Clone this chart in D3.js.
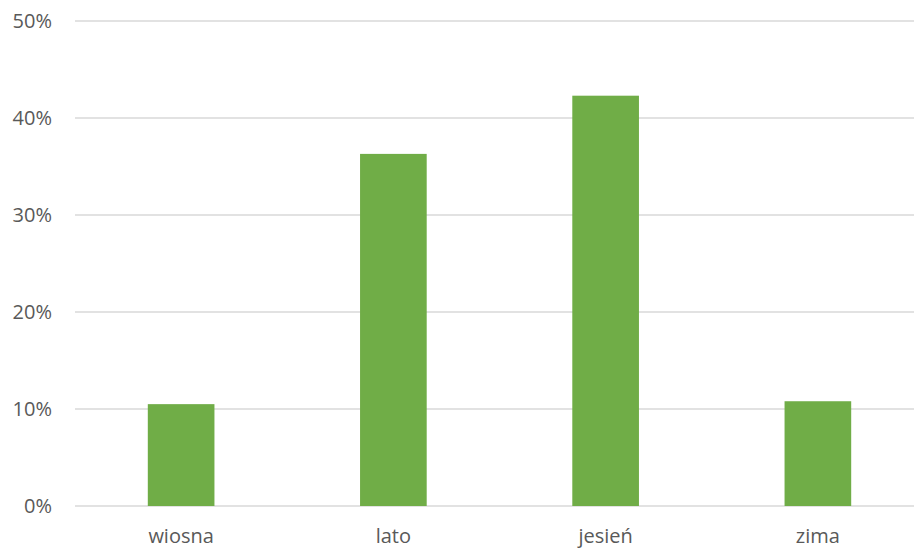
<!DOCTYPE html>
<html>
<head>
<meta charset="utf-8">
<script src="https://cdn.jsdelivr.net/npm/d3@7"></script>
<style>
html,body{margin:0;padding:0;background:#fff;}
svg{display:block;}
</style>
</head>
<body>
<svg id="chart" width="914" height="550"></svg>
<script>
const categories = ["wiosna", "lato", "jesień", "zima"];
const values = [0.105, 0.363, 0.423, 0.108];
const yTicks = [0, 0.1, 0.2, 0.3, 0.4, 0.5];

(function () {
const svg = d3.select("#chart");
const mLeft = 75, mRight = 924, mTop = 21, mBottom = 506;

const x = d3.scaleBand().domain(categories).range([mLeft, mRight])
  .paddingInner(0.686).paddingOuter(0.343);
const y = d3.scaleLinear().domain([0, 0.5]).range([mBottom, mTop]);

const fmt = d3.format(".0%");

// gridlines
svg.append("g").selectAll("line").data(yTicks).join("line")
  .attr("x1", mLeft).attr("x2", 914)
  .attr("y1", d => y(d)).attr("y2", d => y(d))
  .attr("stroke", "#d9d9d9").attr("stroke-width", 1.5);

// y labels
svg.append("g").selectAll("text").data(yTicks).join("text")
  .attr("x", 52).attr("y", d => y(d) + 7)
  .attr("text-anchor", "end")
  .attr("font-family", "'Open Sans', sans-serif")
  .attr("font-size", 20).attr("fill", "#595959")
  .text(d => fmt(d));

// bars
svg.append("g").selectAll("rect").data(categories).join("rect")
  .attr("x", d => x(d)).attr("width", x.bandwidth())
  .attr("y", (d, i) => y(values[i]))
  .attr("height", (d, i) => y(0) - y(values[i]))
  .attr("fill", "#70ad47");

// x labels
svg.append("g").selectAll("text").data(categories).join("text")
  .attr("x", d => x(d) + x.bandwidth() / 2).attr("y", 543)
  .attr("text-anchor", "middle")
  .attr("font-family", "'Open Sans', sans-serif")
  .attr("font-size", 20).attr("fill", "#595959")
  .text(d => d);
})();
</script>
</body>
</html>
